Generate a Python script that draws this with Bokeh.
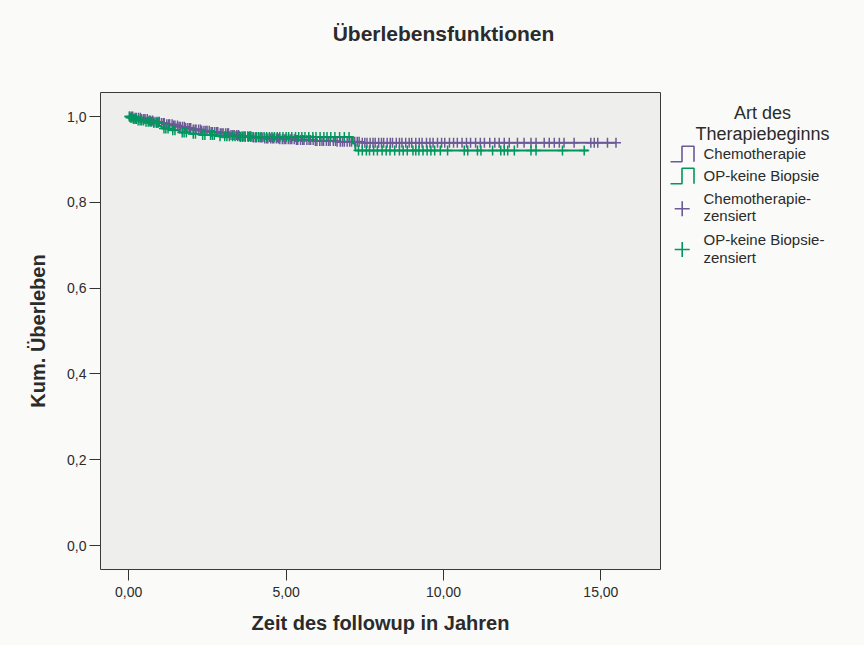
import numpy as np
from bokeh.plotting import figure
from bokeh.layouts import column, row
from bokeh.models import FixedTicker, CustomJSTickFormatter, Range1d
from bokeh.core.properties import value
from bokeh.embed import file_html
from bokeh.resources import INLINE

# ---------------- data ----------------
chemo_t = [0.0, 0.2, 0.4, 0.6, 0.8, 1.0, 1.2, 1.4, 1.6, 1.8, 2.0, 2.3, 2.6, 2.9,
           3.2, 3.5, 3.9, 4.3, 4.8, 5.3, 5.9, 6.6, 7.4, 15.48]
chemo_s = [1.0, 0.997, 0.994, 0.991, 0.988, 0.985, 0.982, 0.979, 0.976, 0.973,
           0.970, 0.967, 0.964, 0.961, 0.957, 0.954, 0.951, 0.949, 0.947, 0.945,
           0.943, 0.941, 0.939, 0.939]

op_t = [0.0, 0.05, 0.15, 0.3, 0.5, 0.75, 0.95, 1.05, 1.3, 1.6, 1.9, 2.25, 2.8,
        3.5, 7.12, 7.2, 14.6]
op_s = [1.0, 0.997, 0.994, 0.991, 0.988, 0.985, 0.978, 0.972, 0.968, 0.963,
        0.960, 0.957, 0.954, 0.952, 0.937, 0.921, 0.921]

chemo_cens = [0.03, 0.09, 0.13, 0.2, 0.24, 0.31, 0.37, 0.41, 0.48, 0.52, 0.59,
              0.65, 0.69, 0.76, 0.8, 0.87, 0.93, 0.97, 1.04, 1.1, 1.13, 1.21,
              1.27, 1.3, 1.38, 1.43, 1.47, 1.55, 1.6, 1.64, 1.71, 1.77, 1.81,
              1.88, 1.94, 1.97, 2.05, 2.11, 2.14, 2.22, 2.28, 2.32, 2.39, 2.45,
              2.49, 2.56, 2.62, 2.66, 2.73, 2.79, 2.83, 2.91, 2.96, 3.0, 3.08,
              3.14, 3.17, 3.25, 3.31, 3.35, 3.43, 3.49, 3.52, 3.6, 3.66, 3.7,
              3.78, 3.84, 3.88, 3.96, 4.02, 4.06, 4.14, 4.2, 4.24, 4.32, 4.38,
              4.42, 4.51, 4.57, 4.61, 4.69, 4.75, 4.8, 4.88, 4.94, 4.99, 5.07,
              5.13, 5.18, 5.26, 5.33, 5.37, 5.46, 5.53, 5.57, 5.66, 5.73, 5.78,
              5.86, 5.93, 5.98, 6.07, 6.14, 6.19, 6.28, 6.35, 6.4, 6.5, 6.57,
              6.62, 6.72, 6.79, 6.85, 6.94, 7.02, 7.08, 7.18, 7.26, 7.32, 7.42,
              7.5, 7.57, 7.67, 7.76, 7.83, 7.94, 8.03, 8.1, 8.21, 8.31, 8.38,
              8.5, 8.6, 8.68, 8.8, 8.91, 8.99, 9.12, 9.23, 9.32, 9.46, 9.57,
              9.67, 9.81, 9.94, 10.04, 10.19, 10.32, 10.44, 10.59, 10.73, 10.86,
              11.02, 11.17, 11.3, 11.47, 11.63, 11.77, 11.93, 12.09, 12.35,
              12.56, 12.78, 12.94, 13.2, 13.36, 13.52, 13.68, 13.83, 14.15,
              14.68, 14.79, 14.9, 15.21, 15.48]

op_cens = [0.02, 0.06, 0.1, 0.15, 0.2, 0.24, 0.3, 0.36, 0.41, 0.47, 0.55, 0.62,
           0.68, 0.73, 0.8, 0.88, 0.93, 1.12, 1.18, 1.25, 1.4, 1.47, 1.7, 1.76,
           1.83, 2.05, 2.12, 2.35, 2.42, 2.6, 2.66, 2.72, 2.9, 3.05, 3.12, 3.2,
           3.3, 3.38, 3.46, 3.55, 3.62, 3.7, 3.8, 3.88, 3.95, 4.05, 4.12, 4.2,
           4.3, 4.38, 4.47, 4.55, 4.63, 4.72, 4.8, 4.9, 5.0, 5.08, 5.18, 5.3,
           5.4, 5.5, 5.6, 5.72, 5.85, 5.95, 6.08, 6.2, 6.3, 6.42, 6.55, 6.7,
           6.85, 7.0, 7.3, 7.42, 7.55, 7.65, 7.78, 7.9, 8.05, 8.18, 8.3, 8.45,
           8.6, 8.72, 8.85, 9.03, 9.12, 9.22, 9.35, 9.48, 9.6, 9.72, 9.9, 10.13,
           10.66, 10.77, 11.08, 11.19, 11.56, 11.82, 11.93, 12.04, 12.25, 12.78,
           12.94, 13.78, 14.47]

x_ticks = [0, 5, 10, 15]
y_ticks = [0.0, 0.2, 0.4, 0.6, 0.8, 1.0]

title_text = "Überlebensfunktionen"
x_title = "Zeit des followup in Jahren"
y_title = "Kum. Überleben"
legend_title = ["Art des", "Therapiebeginns"]
group_names = ["Chemotherapie", "OP-keine Biopsie"]
cens_names = [["Chemotherapie-", "zensiert"], ["OP-keine Biopsie-", "zensiert"]]

# ---------------- styling ----------------
PURPLE = "#6B5A96"
GREEN = "#00965E"
TXT = "#2b2b2b"
FONT = "Liberation Sans"
PAGE_BG = "#FAFAF8"
XS, XE = -0.896, 16.894
YS, YE = -0.0559, 1.056

TOTAL_W, TOTAL_H = 864, 645
TOP_H = 60
MAIN_W = 664
LEG_W = TOTAL_W - MAIN_W
MAIN_H = TOTAL_H - TOP_H
FRAME_TOP, FRAME_BOT = 92, 569
BL, BR, BT, BB = 100, MAIN_W - 660, FRAME_TOP - TOP_H, TOTAL_H - FRAME_BOT


def blank_fig(w, h, x0, x1, y0, y1, bt=0, bb=0):
    f = figure(width=w, height=h, output_backend="svg", toolbar_location=None,
               x_range=Range1d(x0, x1), y_range=Range1d(y1, y0),
               x_axis_location=None, y_axis_location=None,
               min_border=0, min_border_left=0, min_border_right=0,
               min_border_top=bt, min_border_bottom=bb)
    f.grid.visible = False
    f.outline_line_color = None
    f.background_fill_color = PAGE_BG
    f.border_fill_color = PAGE_BG
    return f


# ---------------- title strip ----------------
top = blank_fig(TOTAL_W, TOP_H, 0, TOTAL_W, 0, TOP_H)
top.text(x=[443], y=[33], text=[title_text], text_align="center",
         text_baseline="middle", text_font=value(FONT), text_font_size="21px",
         text_font_style="bold", text_color=TXT)

# ---------------- main plot ----------------
p = figure(width=MAIN_W, height=MAIN_H, output_backend="svg", toolbar_location=None,
           x_range=Range1d(XS, XE), y_range=Range1d(YS, YE),
           min_border_left=BL, min_border_right=BR, min_border_top=BT,
           min_border_bottom=BB)
p.background_fill_color = "#EEEEEC"
p.border_fill_color = PAGE_BG
p.outline_line_color = "#3a3a3a"
p.outline_line_width = 1
p.grid.visible = False


def surv_at(ts, ss, t):
    idx = np.searchsorted(np.array(ts), np.array(t), side="right") - 1
    return np.array(ss)[idx]


p.step(chemo_t, chemo_s, mode="after", line_color=PURPLE, line_width=2)
p.scatter(chemo_cens, surv_at(chemo_t, chemo_s, chemo_cens), marker="cross",
          size=10, line_color=PURPLE, line_width=1.5)
p.step(op_t, op_s, mode="after", line_color=GREEN, line_width=2)
p.scatter(op_cens, surv_at(op_t, op_s, op_cens), marker="cross",
          size=10, line_color=GREEN, line_width=1.5)

for ax in (p.xaxis[0], p.yaxis[0]):
    ax.axis_line_color = None
    ax.major_tick_in = 0
    ax.major_tick_out = 11
    ax.minor_tick_line_color = None
    ax.major_tick_line_color = "#333333"
    ax.major_label_text_font = FONT
    ax.major_label_text_font_size = "14px"
    ax.major_label_text_color = TXT
    ax.axis_label_text_font = FONT
    ax.axis_label_text_font_size = "20px"
    ax.axis_label_text_font_style = "bold"
    ax.axis_label_text_color = TXT

p.xaxis.ticker = FixedTicker(ticks=x_ticks)
p.yaxis.ticker = FixedTicker(ticks=y_ticks)
p.xaxis.formatter = CustomJSTickFormatter(code="return tick.toFixed(2).replace('.', ',');")
p.yaxis.formatter = CustomJSTickFormatter(code="return tick.toFixed(1).replace('.', ',');")
p.xaxis.axis_label = x_title
p.yaxis.axis_label = y_title
p.xaxis.major_label_standoff = 6
p.xaxis.axis_label_standoff = 12
p.yaxis.major_label_standoff = 3
p.yaxis.axis_label_standoff = 15

# ---------------- legend strip (page pixel coordinates) ----------------
leg = blank_fig(LEG_W, MAIN_H, MAIN_W, TOTAL_W, FRAME_TOP, FRAME_BOT, bt=BT, bb=BB)
leg.text(x=[762, 762], y=[112, 133], text=legend_title, text_align="center",
         text_baseline="middle", text_font=value(FONT), text_font_size="18px",
         text_color=TXT)

step_tops = [145.7, 167.7]
for i, col in enumerate([PURPLE, GREEN]):
    yt, yb = step_tops[i], step_tops[i] + 15.5
    x0, x1, x2 = 670, 681.5, 693.5
    leg.line([x0, x1, x1, x2, x2], [yb, yb, yt, yt, yb], line_color=col,
             line_width=1.6)
leg.text(x=[703, 703], y=[153.3, 175], text=group_names, text_align="left",
         text_baseline="middle", text_font=value(FONT), text_font_size="15px",
         text_color=TXT)

leg.scatter([681.7], [208.3], marker="cross", size=15, line_color=PURPLE,
            line_width=1.6)
leg.scatter([681.7], [249], marker="cross", size=15, line_color=GREEN,
            line_width=1.6)
leg.text(x=[703, 703, 703, 703], y=[198.3, 215, 239, 256.7],
         text=cens_names[0] + cens_names[1], text_align="left",
         text_baseline="middle", text_font=value(FONT), text_font_size="15px",
         text_color=TXT)

bg = {"background-color": PAGE_BG}
layout = column(top, row(p, leg, spacing=0, styles=bg), spacing=0, styles=bg)
open("out.html", "w").write(file_html(layout, INLINE))
